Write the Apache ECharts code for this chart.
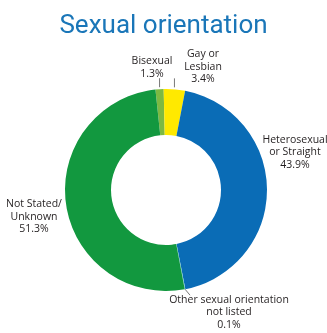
<!DOCTYPE html>
<html><head><meta charset="utf-8">
<script src="https://cdn.jsdelivr.net/npm/echarts@6/dist/echarts.min.js"></script>
<style>html,body{margin:0;padding:0;background:#fff}#c{width:327px;height:333px}</style>
</head><body><div id="c"></div>
<script>
var titleText = 'Sexual orientation';
var categories = ['Bisexual', 'Gay or\nLesbian', 'Heterosexual\nor Straight', 'Other sexual orientation\nnot listed', 'Not Stated/\nUnknown'];
var values = [1.3, 3.4, 43.9, 0.1, 51.3];
var colors = ['#7DB942', '#FFE900', '#0A6CB6', '#6CC6D6', '#12983F'];

// label block centres (layout only)
var labelPos = [[152, 67.5], [203, 67], [295, 152.5], [229, 312.5], [34, 217]];

var chart = echarts.init(document.getElementById('c'), null, {renderer: 'canvas'});
chart.setOption({
  animation: false,
  title: {
    text: titleText, left: 'center', top: 8,
    textStyle: {fontFamily: 'Roboto', fontSize: 26, fontWeight: 'normal', color: '#1A76B8'}
  },
  series: [{
    type: 'pie',
    center: [166, 190],
    radius: [55, 101],
    startAngle: 96,
    clockwise: true,
    avoidLabelOverlap: false,
    minShowLabelAngle: 0,
    data: categories.map(function (n, i) {
      return {name: n, value: values[i], itemStyle: {color: colors[i]}};
    }),
    label: {
      show: true, position: 'outside',
      formatter: function (p) { return p.name + '\n' + p.value + '%'; },
      fontFamily: 'Open Sans', fontSize: 10.5, lineHeight: 12.5, color: '#231F20', align: 'center'
    },
    labelLine: {show: true, lineStyle: {color: '#555', width: 0.8}},
    labelLayout: function (params) {
      var i = params.dataIndex;
      var p = params.labelLinePoints || [[0, 0]];
      var p0 = p[0];
      var pts;
      if (i === 0 || i === 1) {
        pts = [[p0[0], p0[1] - 2], [p0[0], p0[1] - 11]];
      } else if (i === 3) {
        pts = [[p0[0], p0[1]], [p0[0] + 5, p0[1] + 6]];
      } else {
        pts = [[p0[0], p0[1]], [p0[0], p0[1]]];
      }
      return {
        x: labelPos[i][0], y: labelPos[i][1],
        align: 'center', verticalAlign: 'middle',
        labelLinePoints: pts
      };
    },
    emphasis: {disabled: true}
  }]
});
</script></body></html>
